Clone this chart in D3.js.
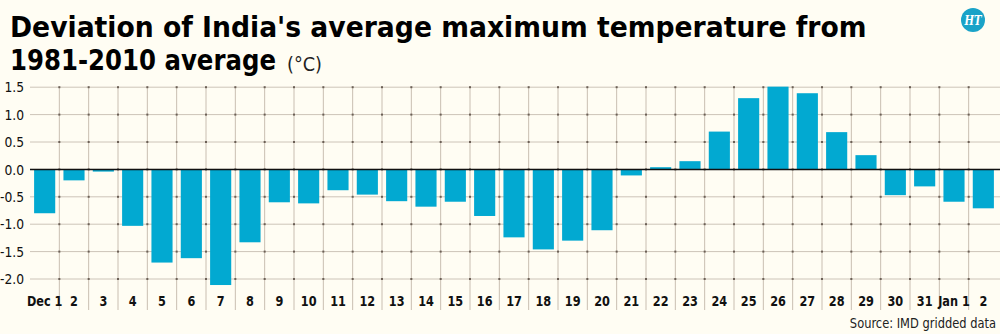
<!DOCTYPE html>
<html>
<head>
<meta charset="utf-8">
<script src="https://cdn.jsdelivr.net/npm/d3@7"></script>
<style>
  html, body { margin: 0; padding: 0; background: #fffdf3; }
  #chart { width: 1000px; height: 334px; }
</style>
</head>
<body>
<div id="chart"></div>
<script>
// days on the x axis
const days = ["Dec 1", "2", "3", "4", "5", "6", "7", "8", "9", "10", "11", "12", "13", "14", "15",
    "16", "17", "18", "19", "20", "21", "22", "23", "24", "25", "26", "27", "28", "29", "30", "31",
    "Jan 1", "2"];
// deviation from 1981-2010 average (°C)
const deviation = [-0.80, -0.20, -0.04, -1.03, -1.70, -1.62, -2.11, -1.33, -0.60, -0.62, -0.38,
    -0.46, -0.58, -0.68, -0.59, -0.85, -1.24, -1.46, -1.30, -1.11, -0.11, 0.04, 0.15,
    0.69, 1.30, 1.51, 1.39, 0.68, 0.26, -0.47, -0.31, -0.59, -0.71];
const yTicks = [1.5, 1.0, 0.5, 0.0, -0.5, -1.0, -1.5, -2.0];

const width = 1000, height = 334;
const font = "'DejaVu Sans', sans-serif";

const svg = d3.select("#chart")
    .append("svg")
    .attr("width", width)
    .attr("height", height)
    .style("font-family", font);

svg.append("rect")
    .attr("width", width)
    .attr("height", height)
    .attr("fill", "#fffdf3");

const x = d3.scaleBand()
    .domain(d3.range(days.length))
    .range([30, 998])
    .paddingInner(0.28)
    .paddingOuter(0.14);

const y = d3.scaleLinear()
    .domain([-2, 1.5])
    .range([279, 87.2]);

// squeeze a text horizontally so it spans the given width (fake condensed face)
function fitText(sel, tx, ty, w) {
    const natural = sel.node().getComputedTextLength();
    sel.attr("transform", `translate(${tx},${ty}) scale(${w / natural},1)`);
}

// horizontal grid
svg.append("g")
    .selectAll("line")
    .data(yTicks)
    .join("line")
    .attr("x1", 30)
    .attr("x2", width)
    .attr("y1", d => y(d))
    .attr("y2", d => y(d))
    .attr("stroke", "#cdc4b8")
    .attr("stroke-width", 1);

// vertical grid at band boundaries
const bounds = d3.range(1, days.length).map(i => x(i) - x.step() * 0.14);
svg.append("g")
    .selectAll("line")
    .data(bounds)
    .join("line")
    .attr("x1", d => d)
    .attr("x2", d => d)
    .attr("y1", y(1.5))
    .attr("y2", 310)
    .attr("stroke", "#c9beb1")
    .attr("stroke-width", 1);

// little dots where the grid lines cross
const crossings = [];
bounds.forEach(bx => yTicks.forEach(t => crossings.push([bx, y(t)])));
svg.append("g")
    .selectAll("rect")
    .data(crossings)
    .join("rect")
    .attr("x", d => d[0] - 1)
    .attr("y", d => d[1] - 1)
    .attr("width", 2)
    .attr("height", 2)
    .attr("fill", "#6b6056");

// bars
svg.append("g")
    .selectAll("rect")
    .data(deviation)
    .join("rect")
    .attr("x", (d, i) => x(i))
    .attr("width", x.bandwidth())
    .attr("y", d => y(Math.max(0, d)))
    .attr("height", d => Math.abs(y(d) - y(0)))
    .attr("fill", "#02a9d1");

// zero line
svg.append("line")
    .attr("x1", 30)
    .attr("x2", width)
    .attr("y1", y(0))
    .attr("y2", y(0))
    .attr("stroke", "#111")
    .attr("stroke-width", 1.5);

// y axis labels
const yAxis = svg.append("g")
    .attr("transform", "translate(24,0)")
    .call(d3.axisLeft(y).tickValues(yTicks).tickSize(0).tickPadding(0)
        .tickFormat(d => d.toFixed(1)));
yAxis.select(".domain").remove();
yAxis.selectAll("text")
    .attr("transform", "scale(0.85,1)")
    .style("font-family", font)
    .style("font-size", "14.5px")
    .attr("fill", "#111");

// x axis labels
const xAxis = svg.append("g")
    .attr("transform", "translate(0,296)")
    .call(d3.axisBottom(x).tickSize(0).tickPadding(0).tickFormat(i => days[i]));
xAxis.select(".domain").remove();
xAxis.selectAll("text")
    .attr("transform", "scale(0.78,1)")
    .style("font-family", font)
    .style("font-size", "14.5px")
    .style("font-weight", "bold")
    .attr("fill", "#111");

// title
const title1 = svg.append("text")
    .style("font-size", "29px")
    .style("font-weight", "bold")
    .attr("fill", "#000")
    .text("Deviation of India's average maximum temperature from");
fitText(title1, 10, 37, 857);

const title2 = svg.append("text")
    .style("font-size", "29px")
    .style("font-weight", "bold")
    .attr("fill", "#000")
    .text("1981-2010 average");
fitText(title2, 10, 70, 266);

const unit = svg.append("text")
    .style("font-size", "19px")
    .attr("fill", "#222")
    .text("(°C)");
fitText(unit, 287, 71, 35);

// source
svg.append("text")
    .attr("transform", "translate(996,328) scale(0.85,1)")
    .attr("text-anchor", "end")
    .style("font-size", "13.5px")
    .attr("fill", "#222")
    .text("Source: IMD gridded data");

// HT logo
const logo = svg.append("g").attr("transform", "translate(973,20)");
logo.append("circle")
    .attr("r", 12)
    .attr("fill", "#1aa3c8");
const ht = logo.append("text")
    .attr("text-anchor", "middle")
    .attr("dy", "0.36em")
    .style("font-family", "'DejaVu Serif', serif")
    .style("font-style", "italic")
    .style("font-weight", "bold")
    .style("font-size", "13px")
    .attr("fill", "#fff")
    .text("HT");
fitText(ht, 0, 0, 17);
</script>
</body>
</html>
